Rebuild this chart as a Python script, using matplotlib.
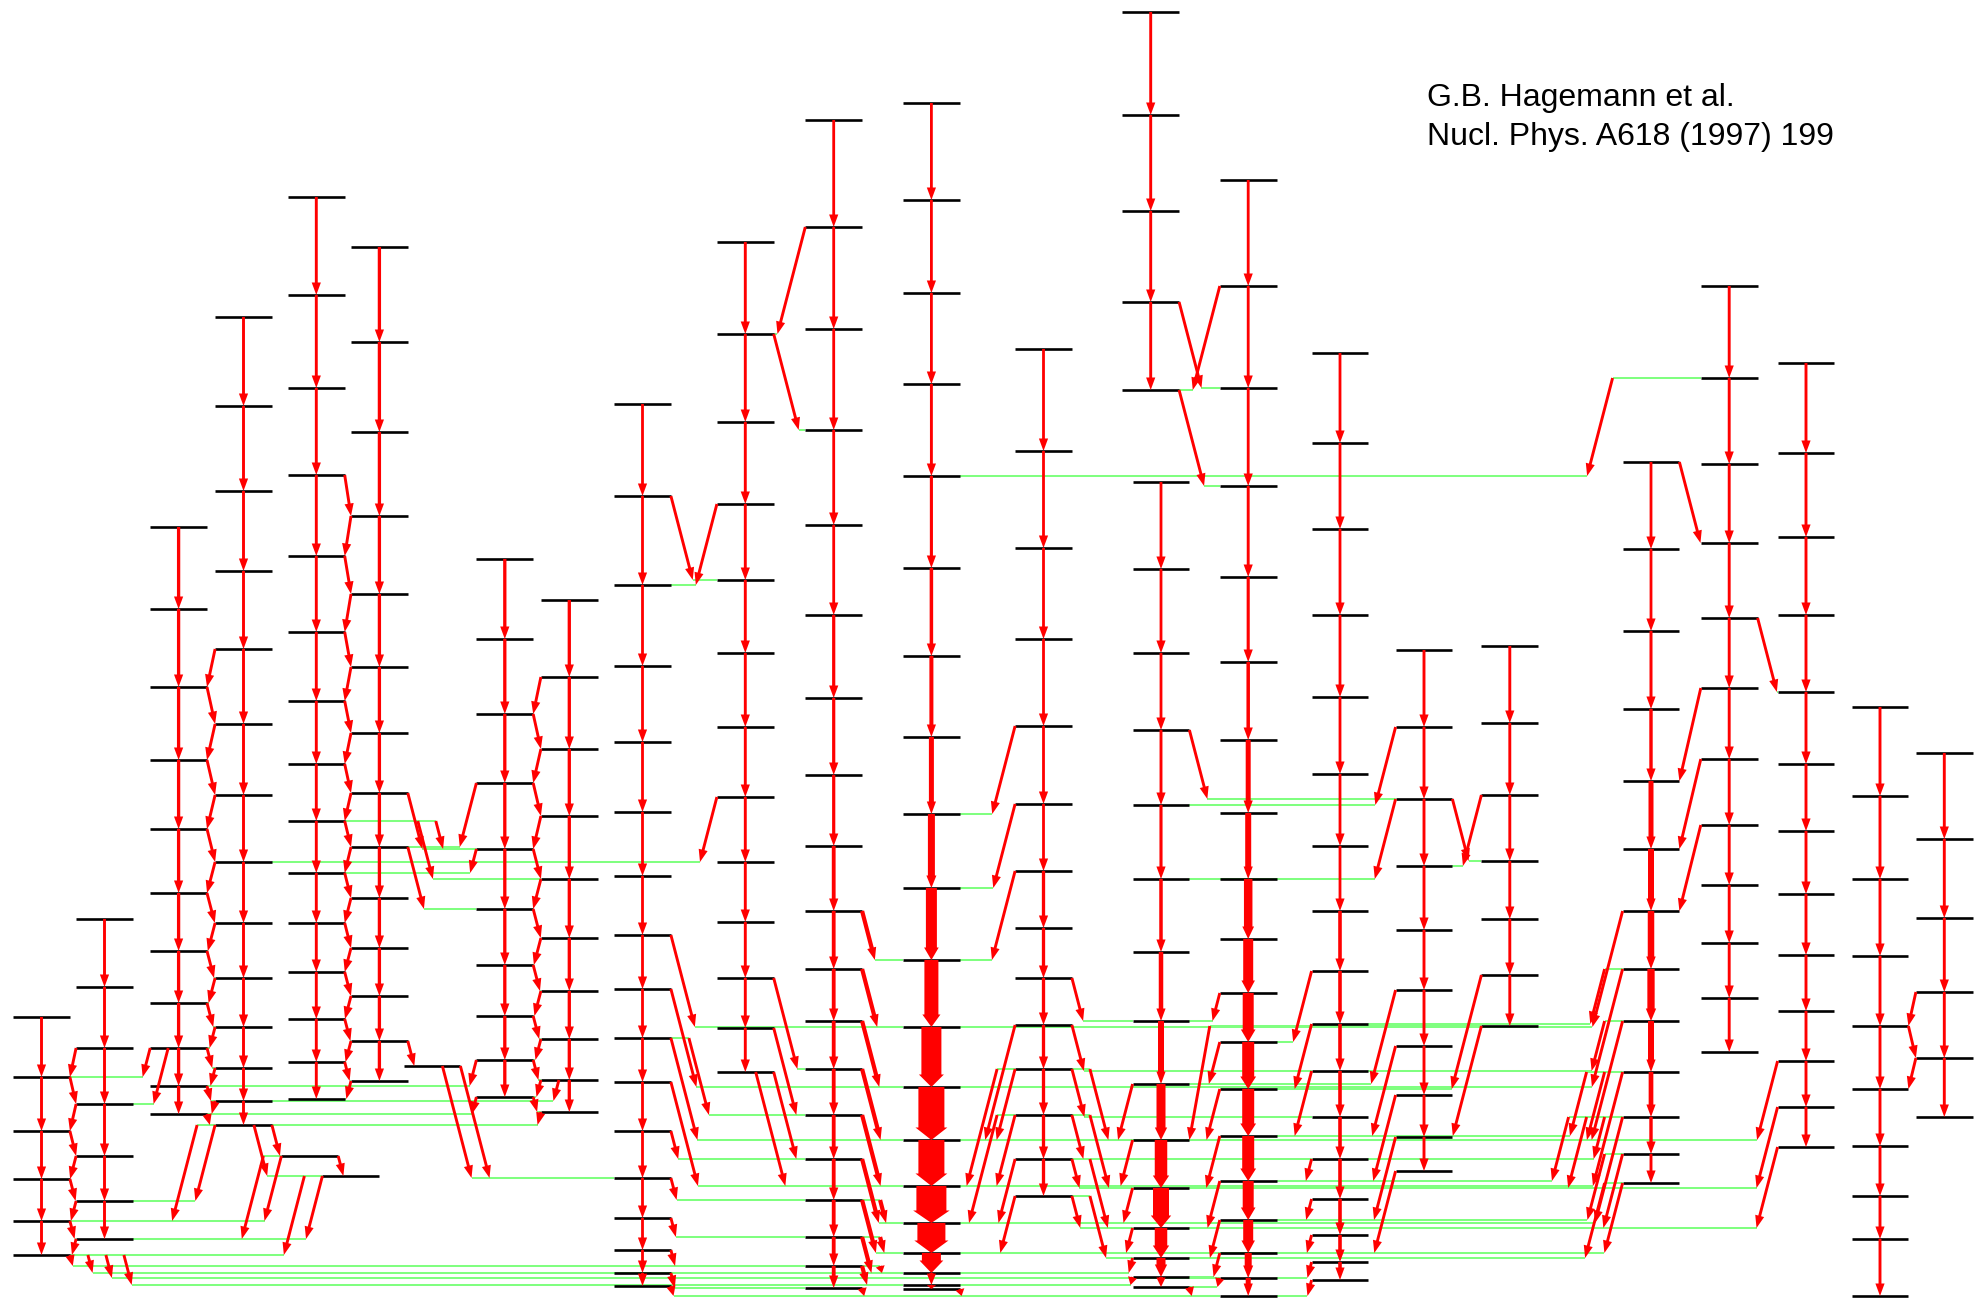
import math
import matplotlib
matplotlib.use("Agg")
import matplotlib.pyplot as plt
from matplotlib.patches import FancyArrow

# ---------------- data: level positions (vertical scale, top = high excitation) -------------
B1 = [1017, 1077, 1131, 1179, 1221, 1255]
B2 = [919, 987, 1048, 1104, 1156, 1201, 1239]
B3 = [527, 609, 687, 760, 829, 893, 951, 1003, 1048, 1086, 1114]
B4 = [317, 406, 491, 571, 649, 724, 795, 862, 923, 978, 1027, 1068, 1101, 1125]
B5 = [197, 295, 388, 475, 556, 632, 701, 764, 821, 873, 923, 972, 1019, 1062, 1099]
B6 = [247, 342, 432, 516, 594, 667, 733, 793, 847, 898, 948, 996, 1041, 1081]
B7 = [559, 639, 714, 783, 849, 909, 965, 1016, 1060, 1097]
B8 = [600, 677, 749, 816, 879, 938, 991, 1039, 1080, 1112]
B9 = [404, 496, 585, 666, 742, 812, 876, 935, 989, 1038, 1082, 1131, 1178, 1218, 1250, 1273, 1286]
B10 = [242, 334, 422, 504, 580, 653, 727, 797, 862, 922, 978, 1028, 1072]
B11 = [120, 227, 329, 430, 525, 615, 698, 775, 846, 911, 969, 1021, 1069, 1115, 1159, 1200, 1237, 1266, 1288]
B12 = [103, 200, 293, 384, 476, 568, 656, 737, 814, 888, 960, 1027, 1087, 1140, 1186, 1223, 1253, 1273, 1285, 1289]
B13 = [349, 451, 548, 639, 726, 804, 871, 928, 978, 1025, 1069, 1115, 1159, 1196]
B14 = [12, 115, 211, 302, 390]
B15 = [482, 569, 653, 730, 805, 879, 952, 1021, 1084, 1140, 1188, 1228, 1258, 1277, 1287]
B16 = [180, 286, 388, 486, 577, 662, 740, 813, 879, 939, 993, 1042, 1089, 1136, 1181, 1220, 1253, 1278, 1296]
B17 = [353, 443, 529, 615, 697, 774, 846, 911, 971, 1024, 1071, 1117, 1159, 1199, 1235, 1262, 1280]
B18 = [650, 727, 799, 866, 930, 990, 1046, 1095, 1137, 1171]
B19 = [646, 723, 795, 861, 919, 975, 1026]
B20 = [462, 549, 631, 709, 781, 849, 911, 969, 1021, 1072, 1117, 1154, 1183]
B21 = [286, 378, 464, 543, 618, 688, 759, 825, 885, 943, 998, 1052]
B22 = [363, 453, 537, 615, 692, 764, 831, 894, 955, 1011, 1061, 1107, 1147]
B23 = [707, 796, 879, 956, 1026, 1089, 1146, 1196, 1239, 1296]
B24 = [753, 839, 918, 992, 1058, 1117]
LA = [1156]
LB = [1176]
LC = [1066]

# in-band transition intensities (arrow shaft widths)
W9 = [2.8] * 16
W11 = [2.8] * 5 + [3.2] * 3 + [3.8] * 10
W12 = [2.8, 2.8, 2.8, 2.9, 3.1, 3.5, 4, 5, 7, 11, 14, 20, 26, 26, 30, 28, 19, 4, 2.4]
W13 = [2.8] * 6 + [3.3] * 7
W15 = [2.8, 2.8, 2.8, 2.9, 3.1, 3.5, 4.5, 6, 9, 12.5, 16, 12.5, 9, 4]
W16 = [2.8, 2.8, 2.8, 2.9, 3.1, 3.5, 5, 6, 8.5, 10, 11, 12, 12, 12, 11, 10, 7, 5]
W17 = [2.8] * 7 + [3.6] * 9
W20 = [2.8, 2.8, 3.0, 3.4, 5, 6, 6.5, 7.3, 6, 4.7, 3.4, 2.9]

# inter-band transitions: (band_i, level_i, band_f, level_f)
trans_left = [
    (2, 2, 1, 1), (1, 1, 2, 3), (2, 3, 1, 2), (1, 2, 2, 4), (2, 4, 1, 3), (1, 3, 2, 5),
    (2, 5, 1, 4), (1, 4, 2, 6), (2, 6, 1, 5),
    (3, 8, 1, 1), (3, 8, 2, 3),
    (4, 4, 3, 2), (3, 2, 4, 5), (4, 5, 3, 3), (3, 3, 4, 6), (4, 6, 3, 4), (3, 4, 4, 7),
    (4, 7, 3, 5), (3, 5, 4, 8), (4, 8, 3, 6), (3, 6, 4, 9), (4, 9, 3, 7), (3, 7, 4, 10),
    (4, 10, 3, 8), (3, 8, 4, 11), (4, 11, 3, 9), (3, 9, 4, 12), (4, 12, 3, 10), (3, 10, 4, 13),
    (4, 13, 2, 5), (4, 13, 1, 4), (4, 13, 25, 0), (4, 13, 26, 0),
    (25, 0, 1, 4), (25, 0, 2, 6), (25, 0, 26, 0), (26, 0, 2, 6), (26, 0, 1, 5),
    (5, 3, 6, 3), (6, 3, 5, 4), (5, 4, 6, 4), (6, 4, 5, 5), (5, 5, 6, 5), (6, 5, 5, 6),
    (5, 6, 6, 6), (6, 6, 5, 7), (5, 7, 6, 7), (6, 7, 5, 8), (5, 8, 6, 8), (6, 8, 5, 9),
    (5, 9, 6, 9), (6, 9, 5, 10), (5, 10, 6, 10), (6, 10, 5, 11), (5, 11, 6, 11), (6, 11, 5, 12),
    (5, 12, 6, 12), (6, 12, 5, 13), (5, 13, 6, 13), (6, 13, 5, 14),
    (8, 1, 7, 2), (7, 2, 8, 2), (8, 2, 7, 3), (7, 3, 8, 3), (8, 3, 7, 4), (7, 4, 8, 4),
    (8, 4, 7, 5), (7, 5, 8, 5), (8, 5, 7, 6), (7, 6, 8, 6), (8, 6, 7, 7), (7, 7, 8, 7),
    (8, 7, 7, 8), (7, 8, 8, 8), (8, 8, 7, 9), (7, 9, 8, 9),
    (6, 7, 7, 4), (5, 8, 8, 4), (5, 8, 7, 4), (7, 3, 6, 8), (6, 8, 7, 5), (7, 4, 5, 9),
    (7, 8, 3, 9), (8, 8, 4, 12), (7, 9, 3, 10), (8, 9, 4, 13),
    (6, 12, 27, 0), (27, 0, 9, 12), (27, 0, 9, 12),
]
trans_center = [
    (11, 1, 10, 1), (10, 1, 11, 3), (9, 1, 10, 4), (10, 3, 9, 2), (10, 7, 4, 7),
    (13, 4, 12, 8), (13, 5, 12, 9), (13, 6, 12, 10),
    (13, 10, 12, 13), (13, 11, 12, 14), (13, 12, 12, 15), (13, 13, 12, 16),
    (13, 9, 12, 13), (13, 10, 12, 14), (13, 11, 12, 15),
    (13, 8, 15, 7), (13, 9, 17, 10), (13, 10, 17, 11), (13, 11, 17, 12), (13, 12, 15, 10),
    (13, 13, 15, 11), (13, 10, 15, 9), (13, 11, 15, 10), (13, 12, 15, 11), (13, 13, 15, 12),
    (9, 7, 12, 11), (9, 8, 12, 12), (9, 9, 12, 13), (9, 9, 11, 13), (9, 10, 12, 14),
    (9, 11, 11, 14), (9, 12, 11, 15), (9, 13, 11, 16), (9, 14, 11, 17), (9, 15, 11, 18),
    (9, 16, 16, 18),
    (10, 10, 11, 12), (10, 11, 11, 13), (10, 12, 11, 14), (10, 12, 12, 14),
    (12, 19, 16, 18),
    (1, 5, 11, 17), (1, 5, 12, 17), (1, 5, 16, 17), (1, 5, 12, 18),
]
trans_b11 = [
    (11, 9, 12, 10), (11, 10, 12, 11), (11, 11, 12, 12), (11, 12, 12, 13), (11, 13, 12, 14),
    (11, 14, 12, 15), (11, 15, 12, 16), (11, 16, 12, 17), (11, 17, 12, 18), (11, 18, 16, 18),
    (11, 15, 12, 15), (11, 16, 12, 16), (11, 17, 12, 17),
]
trans_right = [
    (16, 1, 14, 4), (14, 3, 16, 2), (14, 4, 16, 3), (21, 1, 12, 4),
    (15, 8, 12, 13), (15, 9, 12, 14), (15, 10, 12, 15), (15, 11, 12, 16), (15, 12, 12, 17),
    (15, 13, 12, 18), (15, 14, 16, 18),
    (16, 10, 15, 7), (16, 11, 15, 8), (16, 12, 15, 9), (16, 13, 15, 10), (16, 14, 15, 11),
    (16, 15, 15, 12), (16, 16, 15, 13), (16, 17, 15, 14),
    (17, 8, 16, 11), (17, 9, 16, 12), (17, 10, 16, 13), (17, 12, 16, 14), (17, 13, 16, 15),
    (17, 14, 16, 16), (17, 15, 16, 17), (17, 16, 16, 18),
    (18, 5, 15, 8), (18, 6, 16, 13), (18, 7, 16, 14), (18, 8, 16, 15), (18, 9, 16, 16),
    (15, 3, 18, 2), (18, 1, 15, 4), (18, 2, 15, 5), (18, 2, 19, 3), (19, 2, 18, 3),
    (19, 5, 16, 12), (19, 6, 16, 13), (19, 6, 15, 9),
    (20, 6, 12, 11), (20, 7, 12, 12), (20, 8, 12, 13), (20, 9, 12, 14), (20, 10, 12, 15),
    (20, 12, 12, 16), (20, 12, 15, 12),
    (20, 7, 17, 9), (20, 8, 17, 10), (20, 9, 15, 9), (20, 9, 16, 13), (20, 10, 17, 12),
    (20, 10, 15, 10), (20, 10, 16, 14), (20, 11, 15, 11), (20, 11, 16, 15),
    (20, 0, 21, 3), (21, 4, 22, 4), (21, 5, 20, 4), (21, 6, 20, 5), (21, 7, 20, 6),
    (22, 10, 12, 13), (22, 11, 15, 10), (22, 12, 15, 11),
    (24, 3, 23, 4), (23, 4, 24, 4), (24, 4, 23, 5),
]

REF_LINES = ["G.B. Hagemann et al.", "Nucl. Phys. A618 (1997) 199"]

# ---------------- layout ----------------
levels = {1: B1, 2: B2, 3: B3, 4: B4, 5: B5, 6: B6, 7: B7, 8: B8, 9: B9, 10: B10, 11: B11,
          12: B12, 13: B13, 14: B14, 15: B15, 16: B16, 17: B17, 18: B18, 19: B19, 20: B20,
          21: B21, 22: B22, 23: B23, 24: B24, 25: LA, 26: LB, 27: LC}
band_x = {1: 41.5, 2: 104.5, 3: 178.6, 4: 243.5, 5: 316.3, 6: 379.4, 7: 504.8, 8: 569.3,
          9: 642.5, 10: 745.3, 11: 833.7, 12: 931.4, 13: 1043.5, 14: 1150.7, 15: 1161,
          16: 1248.2, 17: 1340, 18: 1424, 19: 1509.8, 20: 1651, 21: 1729.2, 22: 1806,
          23: 1880, 24: 1944.3, 25: 309.8, 26: 350.8, 27: 432}
inband_w = {9: W9, 11: W11, 12: W12, 13: W13, 15: W15, 16: W16, 17: W17, 20: W20}
default_w = {3: 3.3, 6: 3.3, 7: 3.3, 8: 3.3}

HW = 28.4          # half width of a level line
SLOPE = 0.26       # horizontal run of a cross-band arrow per unit drop
GAP = 10
FAN = 18
RED = "#ff0000"
GREEN = "#80ff80"
TW = 2.9           # cross-band arrow width

fig = plt.figure(figsize=(19.75, 13.07), dpi=100)
ax = fig.add_axes([0, 0, 1, 1])
ax.set_xlim(0, 1975)
ax.set_ylim(1307, 0)
ax.axis("off")


def arrow(x0, y0, x1, y1, w):
    L = math.hypot(x1 - x0, y1 - y0)
    if L < 0.5:
        return
    hw = max(9.2, 1.15 * w + 2)
    hl = min(12.5, 0.95 * L)
    ax.add_patch(FancyArrow(x0, y0, x1 - x0, y1 - y0, width=w, head_width=hw,
                            head_length=hl, length_includes_head=True,
                            color=RED, lw=0, zorder=3))


def green(x0, x1, y):
    ax.plot([x0, x1], [y, y], color=GREEN, lw=1.45, zorder=1, solid_capstyle="butt")


# levels
for b, lv in levels.items():
    x = band_x[b]
    ax.hlines(lv, x - HW, x + HW, color="black", lw=1.9, zorder=2)

# in-band cascades
for b, lv in levels.items():
    if len(lv) < 2:
        continue
    ws = inband_w.get(b, [default_w.get(b, 2.9)] * (len(lv) - 1))
    for k in range(len(lv) - 1):
        arrow(band_x[b], lv[k], band_x[b], lv[k + 1], ws[k])


def conflict(start, d, dx, yi, yf, bi, bf):
    """Return the band whose level lines or cascade the slanted arrow would cross."""
    tip = start + d * dx
    for b in levels:
        if b in (bi, bf):
            continue
        lo, hi = band_x[b] - HW, band_x[b] + HW
        lv = levels[b]
        for y in lv:
            if yi < y < yf:
                xa = start + d * SLOPE * (y - yi)
                if lo - 1.5 <= xa <= hi + 1.5:
                    return b
        if len(lv) > 1:
            xc = band_x[b]
            if min(start, tip) <= xc <= max(start, tip):
                yc = yi + abs(xc - start) / SLOPE
                if min(lv) <= yc <= max(lv):
                    return b
    return None


def avoid(start, d, dx, yi, yf, bi, bf):
    for _ in range(40):
        b = conflict(start, d, dx, yi, yf, bi, bf)
        if b is None:
            break
        start = band_x[b] + d * (HW + GAP)
    return start


fan_used = {}


def draw_trans(bi, li, bf, lf, w):
    yi = levels[bi][li]
    yf = levels[bf][lf]
    xi, xf = band_x[bi], band_x[bf]
    d = 1 if xf > xi else -1
    edge_i = xi + d * HW
    edge_f = xf - d * HW
    dx = SLOPE * (yf - yi)
    start = avoid(edge_i, d, dx, yi, yf, bi, bf)
    if d * (start - edge_f) >= 0:
        start = edge_i
    key = (bi, li, d, round(start))
    k = fan_used.get(key, 0)
    fan_used[key] = k + 1
    if k:
        out = start + d * FAN * k
        if conflict(out, d, dx, yi, yf, bi, bf) is None and d * (out - edge_f) < 0:
            start = out
        else:
            inward = start - d * FAN * k
            if (d * (inward - (xi - d * HW)) > 4
                    and conflict(inward, d, dx, yi, yf, bi, bf) is None):
                start = inward
            else:
                s2 = avoid(out, d, dx, yi, yf, bi, bf)
                if d * (s2 - edge_f) < 0:
                    start = s2
    tip = start + d * dx
    if d * (start - edge_f) < 0 and d * (tip - edge_f) > 0:
        tip = edge_f
    if d * (start - edge_i) > 0.5:
        green(edge_i, start, yi)
    if d * (edge_f - tip) > 0.5:
        green(tip, edge_f, yf)
    arrow(start, yi, tip, yf, w)


for t in trans_left + trans_center + trans_right:
    draw_trans(*t, TW)
for t in trans_b11:
    draw_trans(*t, 4.2)

ax.text(1427, 106, REF_LINES[0], fontsize=23, family="Liberation Sans", va="baseline", ha="left")
ax.text(1427, 145.5, REF_LINES[1], fontsize=23, family="Liberation Sans", va="baseline", ha="left")

fig.savefig("out.png", dpi=100)
